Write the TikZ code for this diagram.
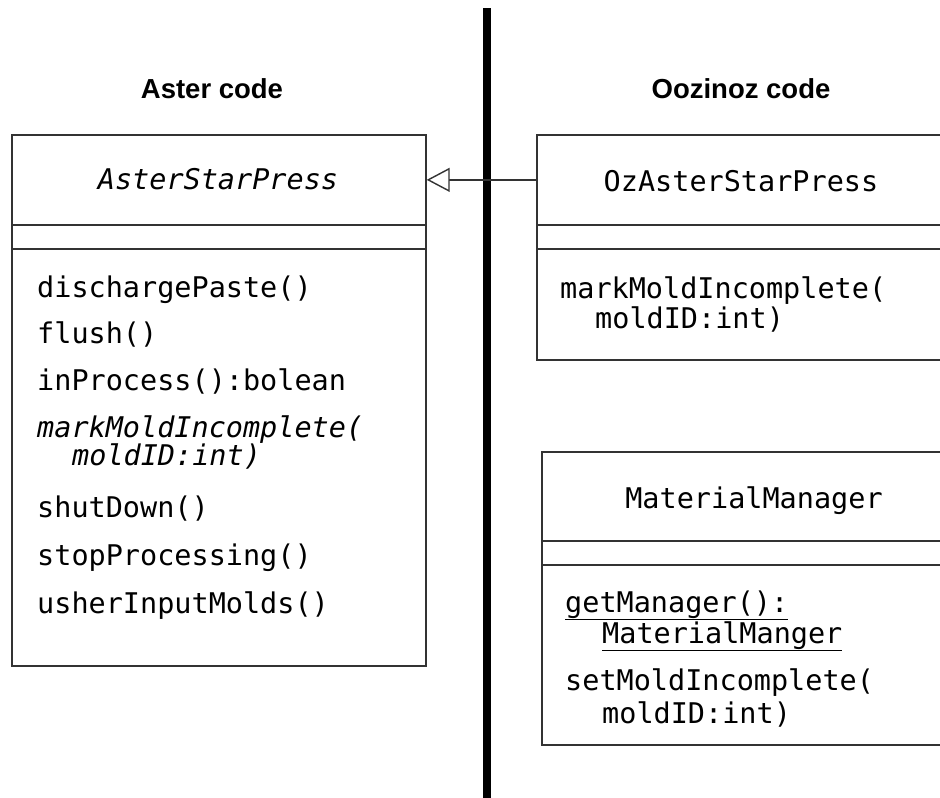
\documentclass[tikz,border=0pt]{standalone}
\usepackage{fontspec}
\setmainfont{Liberation Sans}
\setmonofont{DejaVu Sans Mono}
\usetikzlibrary{arrows.meta}
\begin{document}
\begin{tikzpicture}[x=1pt,y=-1pt,
  boxline/.style={draw=black!80, line width=1.7pt},
  comp/.style={boxline, minimum width=414pt, inner sep=0pt, anchor=north west},
  code/.style={font=\ttfamily\fontsize{28.5}{28.5}\selectfont, anchor=base west, inner sep=0pt},
  codec/.style={code, anchor=base},
  title/.style={font=\bfseries\fontsize{27.5}{27.5}\selectfont, anchor=base, inner sep=0pt}]
\useasboundingbox (0,0) rectangle (940,798);

% titles
\node[title] (asterTitle) at (212,98) {Aster code};
\node[title] (ozTitle) at (741,98) {Oozinoz code};

% divider
\coordinate (vtop) at (487,8);
\coordinate (vbot) at (487,800);
\draw[line width=8pt] (vtop) -- (vbot);

% AsterStarPress
\node[comp, minimum height=90pt] (astername) at (11,134) {};
\node[comp, minimum height=24pt] (asterattr) at (11,224) {};
\node[comp, minimum height=417pt] (asterops) at (11,248) {};
\node[codec] (asterT) at (218,189) {\itshape AsterStarPress};
\node[code] (a1) at (37,297) {dischargePaste()};
\node[code] (a2) at (37,343) {flush()};
\node[code] (a3) at (37,390) {inProcess():bolean};
\node[code] (a4) at (37,437) {\itshape markMoldIncomplete(};
\node[code] (a5) at (72,465) {\itshape moldID:int)};
\node[code] (a6) at (37,517) {shutDown()};
\node[code] (a7) at (37,565) {stopProcessing()};
\node[code] (a8) at (37,613) {usherInputMolds()};

% OzAsterStarPress
\node[comp, minimum width=410pt, minimum height=90pt] (ozname) at (536,134) {};
\node[comp, minimum width=410pt, minimum height=24pt] (ozattr) at (536,224) {};
\node[comp, minimum width=410pt, minimum height=111pt] (ozops) at (536,248) {};
\node[codec] (ozT) at (741,191) {OzAsterStarPress};
\node[code] (o1) at (560,298) {markMoldIncomplete(};
\node[code] (o2) at (595,328) {moldID:int)};

% MaterialManager
\node[comp, minimum height=89pt] (mmname) at (541,451) {};
\node[comp, minimum height=24pt] (mmattr) at (541,540) {};
\node[comp, minimum height=180pt] (mmops) at (541,564) {};
\node[codec] (mmT) at (754,508) {MaterialManager};
\node[code] (m1) at (565,612) {\underline{getManager():}};
\node[code] (m2) at (602,643) {\underline{MaterialManger}};
\node[code] (m3) at (565,690) {setMoldIncomplete(};
\node[code] (m4) at (602,723) {moldID:int)};

% generalization
\draw[draw=black!80, line width=1.4pt, -{Triangle[open, length=23pt, width=24pt, fill=white]}] (ozname.west) -- (astername.east);
\end{tikzpicture}
\end{document}
